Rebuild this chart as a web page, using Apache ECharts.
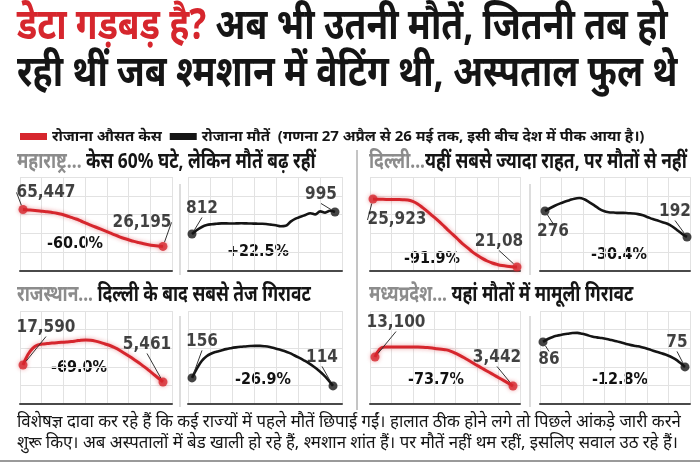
<!DOCTYPE html>
<html>
<head>
<meta charset="utf-8">
<script src="https://cdn.jsdelivr.net/npm/echarts@6/dist/echarts.min.js"></script>
<style>
html, body { margin: 0; padding: 0; background: #fff; }
#box { width: 700px; height: 466px; }
</style>
</head>
<body>
<div id="box"></div>
<script>
// 27 अप्रैल से 26 मई तक
var days = ['27/4','28/4','29/4','30/4','1/5','2/5','3/5','4/5','5/5','6/5','7/5','8/5','9/5','10/5','11/5',
    '12/5','13/5','14/5','15/5','16/5','17/5','18/5','19/5','20/5','21/5','22/5','23/5','24/5','25/5','26/5'];

// रोजाना औसत केस / रोजाना मौतें (चित्र से अनुमान)
var mhCases = [65447,65000,64600,64100,63500,63000,62300,61500,60300,58800,57000,55300,53200,51000,48900,
    46800,44700,42600,40500,38400,36400,34600,33000,31500,30200,29000,28000,27200,26600,26195];
var mhDeaths = [812,845,870,886,893,897,900,900,899,900,901,900,899,898,897,
    895,890,884,876,880,915,940,955,970,985,975,1000,990,1005,995];
var dlCases = [25923,25850,25800,25780,25760,25740,25700,25600,25100,24200,22900,21500,20000,18500,16900,
    15200,13600,12000,10300,8900,7400,6200,5100,4200,3500,3000,2600,2350,2200,2108];
var dlDeaths = [276,285,293,300,306,311,316,318,314,305,295,284,276,272,271,
    270,270,269,268,266,262,256,250,245,240,235,226,214,202,192];
var rjCases = [17590,25000,29500,31800,32600,33000,33300,33600,33900,34100,34400,34900,35400,35500,35300,
    34700,33800,32700,31600,30000,28200,26100,23900,21600,19200,16600,13900,11100,8300,5461];
var rjDeaths = [156,205,245,270,284,293,300,307,312,316,319,321,323,324,324,
    322,318,312,305,297,287,275,262,248,233,216,196,173,146,114];
var mpCases = [13100,15800,16450,16480,16470,16460,16450,16460,16450,16420,16350,16250,16100,15900,15700,
    15500,15000,14300,13500,12600,11700,10700,9800,8900,8000,7100,6200,5300,4400,3442];
var mpDeaths = [86,87.3,88.2,88.8,89.3,89.6,89.9,90,89.6,89.0,88.4,88.0,87.7,87.3,86.8,
    86.3,85.7,85.1,84.6,84.2,83.8,83.2,82.5,81.8,81.1,80.5,79.6,78.4,76.8,75];

var startText = ['65,447','812','25,923','276','17,590','156','13,100','86'];
var endText = ['26,195','995','21,08','192','5,461','114','3,442','75'];
var pctText = ['-60.0%','+22.5%','-91.9%','-30.4%','-69.0%','-26.9%','-73.7%','-12.8%'];

var caseName = 'रोजाना औसत केस';
var deathName = 'रोजाना मौतें';
var note = '(गणना 27 अप्रैल से 26 मई तक, इसी बीच देश में पीक आया है।)';

var RED = '#d6262d';
var BLACK = '#151515';
var FONT = '"Noto Sans", "DejaVu Sans", sans-serif';
var NUMFONT = '"DejaVu Sans Condensed", "Liberation Sans Narrow", "Roboto", sans-serif';

var seriesData = [mhCases, mhDeaths, dlCases, dlDeaths, rjCases, rjDeaths, mpCases, mpDeaths];

// पैनल की जगह (लेआउट)
var boxes = [
    {L: 20, R: 172, s: 23, e: 163, T: 177, H: 94},
    {L: 188, R: 342, s: 192, e: 335, T: 177, H: 94},
    {L: 370, R: 520, s: 373, e: 517, T: 177, H: 94},
    {L: 540, R: 690, s: 545, e: 687, T: 177, H: 94},
    {L: 20, R: 172, s: 23, e: 163, T: 311, H: 93},
    {L: 188, R: 342, s: 192, e: 333, T: 311, H: 93},
    {L: 370, R: 520, s: 375, e: 513, T: 311, H: 93},
    {L: 540, R: 690, s: 543, e: 685, T: 311, H: 93}
];
var yRange = [[0,100000],[504,1286],[692,33631],[82,386],[-10333,56310],[19,507],[-2583,28472],[58.7,99.6]];
var labelOffset = [
    [[23,-17],[-21,-24]],
    [[10,-25],[-14,-17]],
    [[24,21],[-18,-25]],
    [[8,21],[-12,-25]],
    [[23,-37],[-16,-37]],
    [[10,-36],[-11,-28]],
    [[21,-34],[-16,-28]],
    [[6,18],[-8,-24]]
];
var pctPos = [[75,244],[258,252],[432,259],[619,255],[79,368],[263,380],[436,380],[620,380]];

var grids = [], xAxes = [], yAxes = [], series = [], graphics = [];

boxes.forEach(function (b, i) {
    var g0 = i * 2, g1 = i * 2 + 1;
    var isCase = i % 2 === 0;
    var color = isCase ? RED : BLACK;
    // ग्रिड रेखाएँ
    grids.push({left: b.L, top: b.T, width: b.R - b.L, height: b.H});
    // डेटा
    grids.push({left: b.s, top: b.T, width: b.e - b.s, height: b.H});
    xAxes.push({
        type: 'value', gridIndex: g0, min: 0, max: 7, interval: 1,
        axisLabel: {show: false}, axisTick: {show: false},
        axisLine: {show: true, lineStyle: {color: '#4a4a4a', width: 2}},
        splitLine: {show: true, lineStyle: {color: '#e2e2e2', width: 1}}
    });
    yAxes.push({
        type: 'value', gridIndex: g0, min: 0, max: 5, interval: 1,
        axisLabel: {show: false}, axisTick: {show: false}, axisLine: {show: false},
        splitLine: {show: true, lineStyle: {color: '#e2e2e2', width: 1}}
    });
    xAxes.push({type: 'category', gridIndex: g1, data: days, boundaryGap: false, show: false});
    yAxes.push({type: 'value', gridIndex: g1, min: yRange[i][0], max: yRange[i][1], show: false});

    var vals = seriesData[i];
    series.push({
        name: isCase ? caseName : deathName,
        type: 'line', xAxisIndex: g1, yAxisIndex: g1,
        data: vals, smooth: 0.4, showSymbol: false,
        lineStyle: isCase
            ? {color: color, width: 3, shadowBlur: 4, shadowColor: 'rgba(214,38,45,0.45)'}
            : {color: color, width: 2.6},
        itemStyle: {color: color},
        z: 3
    });
    series.push({
        name: isCase ? caseName : deathName,
        type: 'scatter', xAxisIndex: g1, yAxisIndex: g1,
        data: [[days[0], vals[0]], [days[days.length - 1], vals[vals.length - 1]]],
        symbolSize: 9,
        itemStyle: isCase
            ? {color: color, shadowBlur: 4, shadowColor: 'rgba(214,38,45,0.5)'}
            : {color: color},
        label: {
            show: true, position: 'inside',
            formatter: function (p) { return p.dataIndex === 0 ? startText[i] : endText[i]; },
            color: '#111', fontSize: 17, fontWeight: 'bold', fontFamily: NUMFONT
        },
        labelLayout: function (p) {
            var o = labelOffset[i][p.dataIndex];
            return {dx: o[0], dy: o[1]};
        },
        labelLine: {show: true, lineStyle: {color: '#333', width: 1}},
        z: 4
    });
    graphics.push({
        type: 'text', x: pctPos[i][0], y: pctPos[i][1],
        style: {text: pctText[i], fill: '#111', fontSize: 16, fontWeight: 'bold', fontFamily: NUMFONT,
            align: 'center', verticalAlign: 'middle'}
    });
});

// विभाजक रेखाएँ
graphics.push({type: 'line', shape: {x1: 357, y1: 150, x2: 357, y2: 410}, style: {stroke: '#8a8a8a', lineWidth: 1}});
graphics.push({type: 'line', shape: {x1: 180, y1: 184, x2: 180, y2: 275}, style: {stroke: '#bbb', lineWidth: 1}});
graphics.push({type: 'line', shape: {x1: 530, y1: 184, x2: 530, y2: 275}, style: {stroke: '#bbb', lineWidth: 1}});
graphics.push({type: 'line', shape: {x1: 180, y1: 316, x2: 180, y2: 407}, style: {stroke: '#bbb', lineWidth: 1}});
graphics.push({type: 'line', shape: {x1: 530, y1: 316, x2: 530, y2: 407}, style: {stroke: '#bbb', lineWidth: 1}});
graphics.push({type: 'line', shape: {x1: 0, y1: 461, x2: 700, y2: 461}, style: {stroke: '#9a9a9a', lineWidth: 2}});

// शीर्षक और टेक्स्ट (संकरा फ़ॉन्ट जैसा दिखाने को scaleX)
function headText(txt, x, y) {
    return {
        type: 'text', x: x, y: y, scaleX: 0.885, scaleY: 1.08,
        style: {
            text: txt, fill: '#151515', fontSize: 40, fontWeight: 'bold', fontFamily: FONT,
            verticalAlign: 'top',
            rich: {r: {fill: RED, fontSize: 40, fontWeight: 'bold', fontFamily: FONT}}
        }
    };
}
function secText(txt, x, y) {
    return {
        type: 'text', x: x, y: y, scaleX: 0.79,
        style: {
            text: txt, fill: '#151515', fontSize: 22, fontWeight: 'bold', fontFamily: FONT,
            verticalAlign: 'top',
            rich: {g: {fill: '#8c8c8c', fontSize: 22, fontWeight: 'bold', fontFamily: FONT}}
        }
    };
}
graphics.push(headText('{r|डेटा गड़बड़ है?} अब भी उतनी मौतें, जितनी तब हो', 17, 5));
graphics.push(headText('रही थीं जब श्मशान में वेटिंग थी, अस्पताल फुल थे', 17, 52));
graphics.push(secText('{g|महाराष्ट्र...} केस 60% घटे, लेकिन मौतें बढ़ रहीं', 17, 151));
graphics.push(secText('{g|दिल्ली...}यहीं सबसे ज्यादा राहत, पर मौतों से नहीं', 369, 151));
graphics.push(secText('{g|राजस्थान...} दिल्ली के बाद सबसे तेज गिरावट', 17, 284));
graphics.push(secText('{g|मध्यप्रदेश...} यहां मौतों में मामूली गिरावट', 369, 284));
graphics.push({
    type: 'text', x: 17, y: 412,
    style: {
        text: 'विशेषज्ञ दावा कर रहे हैं कि कई राज्यों में पहले मौतें छिपाई गईं। हालात ठीक होने लगे तो पिछले आंकड़े जारी करने\n' +
              'शुरू किए। अब अस्पतालों में बेड खाली हो रहे हैं, श्मशान शांत हैं। पर मौतें नहीं थम रहीं, इसलिए सवाल उठ रहे हैं।',
        fill: '#151515', fontSize: 16.8, fontFamily: FONT, lineHeight: 21, verticalAlign: 'top'
    }
});

var myChart = echarts.init(document.getElementById('box'));
var option = {
    backgroundColor: '#fff',
    animation: false,
    legend: {
        left: 15, top: 124,
        icon: 'rect', itemWidth: 27, itemHeight: 7, itemGap: 8,
        data: [{name: caseName, itemStyle: {color: RED}}, {name: deathName, itemStyle: {color: BLACK}}],
        formatter: function (name) { return name === deathName ? name + '  ' + note : name; },
        textStyle: {fontSize: 15, fontWeight: 'bold', color: '#151515', fontFamily: FONT},
        selectedMode: false
    },
    grid: grids,
    xAxis: xAxes,
    yAxis: yAxes,
    series: series,
    graphic: graphics
};
myChart.setOption(option);
</script>
</body>
</html>
